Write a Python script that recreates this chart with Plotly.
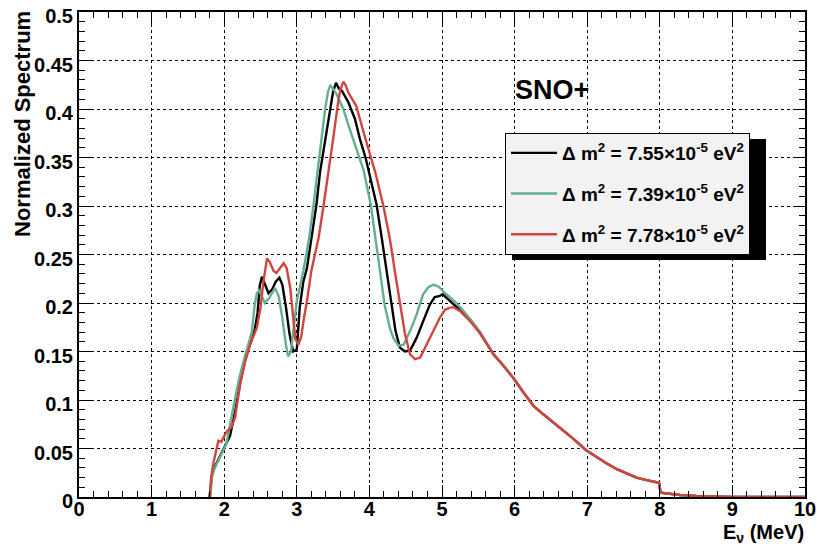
import plotly.graph_objects as go

# ---------------- data ----------------
energy_black = [1.80, 1.83, 1.87, 1.93, 1.99, 2.08, 2.15, 2.22, 2.29, 2.36, 2.42, 2.46, 2.49, 2.52, 2.56,
                2.61, 2.66, 2.71, 2.76, 2.80, 2.85, 2.90, 2.95, 3.00, 3.04, 3.09, 3.14, 3.20, 3.27, 3.32,
                3.39, 3.46, 3.50, 3.54, 3.58, 3.62, 3.71, 3.80, 3.87, 3.95, 4.03, 4.10, 4.17, 4.24, 4.31,
                4.36, 4.42, 4.49, 4.56, 4.65, 4.74, 4.83, 4.90, 4.96, 5.01, 5.07, 5.13, 5.25, 5.39, 5.52]
spectrum_black = [0.000, 0.022, 0.031, 0.040, 0.050, 0.063, 0.088, 0.118, 0.142, 0.158, 0.172, 0.190, 0.218, 0.227, 0.220,
                  0.210, 0.214, 0.222, 0.226, 0.219, 0.196, 0.168, 0.150, 0.152, 0.195, 0.222, 0.236, 0.267, 0.301, 0.335,
                  0.369, 0.403, 0.418, 0.427, 0.421, 0.419, 0.407, 0.390, 0.369, 0.349, 0.325, 0.301, 0.267, 0.233, 0.198,
                  0.171, 0.154, 0.150, 0.151, 0.164, 0.181, 0.198, 0.206, 0.207, 0.209, 0.205, 0.200, 0.193, 0.183, 0.170]

energy_green = [1.81, 1.83, 1.86, 1.95, 2.03, 2.13, 2.20, 2.26, 2.32, 2.38, 2.42, 2.45, 2.48, 2.52, 2.56,
                2.62, 2.66, 2.70, 2.75, 2.80, 2.85, 2.88, 2.92, 2.96, 3.00, 3.09, 3.17, 3.23, 3.29, 3.34,
                3.39, 3.43, 3.46, 3.50, 3.55, 3.64, 3.73, 3.83, 3.92, 4.02, 4.08, 4.15, 4.21, 4.28, 4.33,
                4.40, 4.47, 4.56, 4.65, 4.74, 4.81, 4.88, 4.95, 5.06, 5.20, 5.34, 5.48]
spectrum_green = [0.000, 0.020, 0.028, 0.042, 0.055, 0.094, 0.120, 0.138, 0.155, 0.170, 0.198, 0.210, 0.213, 0.206, 0.200,
                  0.205, 0.211, 0.2155, 0.207, 0.185, 0.157, 0.145, 0.150, 0.175, 0.202, 0.233, 0.267, 0.301, 0.335, 0.369,
                  0.400, 0.418, 0.424, 0.421, 0.415, 0.400, 0.379, 0.356, 0.337, 0.301, 0.267, 0.233, 0.198, 0.1745, 0.164,
                  0.156, 0.157, 0.171, 0.188, 0.209, 0.216, 0.219, 0.217, 0.209, 0.200, 0.188, 0.1745]

energy_red = [1.80, 1.82, 1.85, 1.92, 1.96, 2.03, 2.10, 2.15, 2.22, 2.29, 2.36, 2.45, 2.50, 2.54, 2.59,
              2.63, 2.68, 2.72, 2.77, 2.82, 2.86, 2.91, 2.95, 2.98, 3.02, 3.06, 3.10, 3.14, 3.20, 3.30,
              3.37, 3.43, 3.50, 3.57, 3.60, 3.64, 3.67, 3.71, 3.76, 3.82, 3.92, 4.01, 4.08, 4.19, 4.28,
              4.35, 4.42, 4.49, 4.56, 4.63, 4.70, 4.79, 4.88, 4.97, 5.04, 5.10, 5.16, 5.25, 5.39, 5.52]
spectrum_red = [0.000, 0.020, 0.0345, 0.058, 0.057, 0.067, 0.072, 0.082, 0.1165, 0.140, 0.158, 0.1745, 0.195, 0.222, 0.246,
                0.242, 0.233, 0.231, 0.236, 0.241, 0.236, 0.2155, 0.185, 0.163, 0.157, 0.165, 0.185, 0.202, 0.233, 0.267,
                0.301, 0.335, 0.369, 0.407, 0.420, 0.428, 0.425, 0.417, 0.410, 0.403, 0.376, 0.352, 0.335, 0.301, 0.267,
                0.233, 0.198, 0.168, 0.147, 0.142, 0.1437, 0.157, 0.171, 0.1847, 0.193, 0.195, 0.1957, 0.1916, 0.181, 0.169]

# common high-energy tail (all three curves coincide)
energy_tail = [5.60, 5.71, 5.85, 5.98, 6.12, 6.26, 6.40, 6.53, 6.67, 6.81, 6.99, 7.13, 7.27, 7.40, 7.54,
               7.68, 7.82, 7.99, 8.01, 8.14, 8.28, 8.50, 8.74, 9.00, 10.00]
spectrum_tail = [0.160, 0.147, 0.135, 0.123, 0.108, 0.094, 0.085, 0.077, 0.069, 0.060, 0.048, 0.041, 0.0345, 0.029, 0.0243,
                 0.020, 0.0174, 0.0147, 0.0044, 0.003, 0.002, 0.001, 0.0004, 0.0, 0.0]

series_names = ["<b>\u0394 m<sup>2</sup> = 7.55\u00d710<sup>-5</sup> eV<sup>2</sup></b>",
                "<b>\u0394 m<sup>2</sup> = 7.39\u00d710<sup>-5</sup> eV<sup>2</sup></b>",
                "<b>\u0394 m<sup>2</sup> = 7.78\u00d710<sup>-5</sup> eV<sup>2</sup></b>"]
series_colors = ["#000000", "#64b08e", "#d2443e"]

x_tick_vals = [0, 1, 2, 3, 4, 5, 6, 7, 8, 9, 10]
x_tick_text = ["0", "1", "2", "3", "4", "5", "6", "7", "8", "9", "10"]
y_tick_vals = [0, 0.05, 0.1, 0.15, 0.2, 0.25, 0.3, 0.35, 0.4, 0.45, 0.5]
y_tick_text = ["0", "0.05", "0.1", "0.15", "0.2", "0.25", "0.3", "0.35", "0.4", "0.45", "0.5"]

# ---------------- figure ----------------
W, H = 817, 546
ML, MR, MT, MB = 79, 12, 12, 49
PW, PH = W - ML - MR, H - MT - MB

def px_x(p):
    return (p - ML) / PW

def px_y(p):
    return (H - MB - p) / PH

FONT = "Liberation Sans, Arial, Helvetica, sans-serif"

fig = go.Figure()
all_x = [energy_black, energy_green, energy_red]
all_y = [spectrum_black, spectrum_green, spectrum_red]
for i in range(3):
    fig.add_trace(go.Scatter(
        x=all_x[i] + energy_tail, y=all_y[i] + spectrum_tail,
        mode="lines", name=series_names[i], legendgroup=f"g{i}",
        line=dict(color=series_colors[i], width=2.4),
    ))

axis_common = dict(
    showline=True, linecolor="black", linewidth=2, mirror="allticks",
    ticks="inside", tickcolor="black", tickwidth=1, ticklen=12,
    showgrid=True, gridcolor="black", gridwidth=1, griddash="dot",
    zeroline=False, automargin=False, ticklabeloverflow="allow",
    tickfont=dict(family=FONT, size=20, color="black"),
)

fig.update_xaxes(range=[0, 10], tickvals=x_tick_vals, ticktext=["<b>%s</b>" % t for t in x_tick_text],
                 minor=dict(ticks="inside", ticklen=6, tickcolor="black", dtick=0.2, showgrid=False),
                 ticklabelstandoff=-7, **axis_common)
fig.update_yaxes(range=[0, 0.5], tickvals=y_tick_vals, ticktext=["<b>%s</b>" % t for t in y_tick_text],
                 minor=dict(ticks="inside", ticklen=6, tickcolor="black", dtick=0.01, showgrid=False),
                 ticklabelshift=4, **axis_common)

# legend shadow
fig.add_shape(type="rect", xref="paper", yref="paper",
              x0=px_x(512), x1=px_x(766), y0=px_y(260), y1=px_y(139),
              fillcolor="black", line=dict(width=0), layer="above")

fig.update_layout(
    width=W, height=H,
    margin=dict(l=ML, r=MR, t=MT, b=MB, autoexpand=False),
    paper_bgcolor="white", plot_bgcolor="white",
    font=dict(family=FONT, color="black"),
    showlegend=True,
    legend=dict(
        x=px_x(505), y=px_y(133), xanchor="left", yanchor="top",
        bgcolor="#f2f2f2", bordercolor="black", borderwidth=1,
        font=dict(family=FONT, size=19, color="black"),
        itemwidth=46, tracegroupgap=13, traceorder="grouped",
    ),
    annotations=[
        dict(text="<b>SNO+</b>", xref="paper", yref="paper", x=px_x(513), y=px_y(90),
             xanchor="left", yanchor="middle", showarrow=False,
             font=dict(family=FONT, size=27, color="black")),
        dict(text="<b>Normalized Spectrum</b>", xref="paper", yref="paper", x=px_x(22), y=px_y(9),
             xanchor="center", yanchor="top", textangle=-90, showarrow=False,
             font=dict(family=FONT, size=22, color="black")),
        dict(text="<b>E<sub>\u03bd</sub> (MeV)</b>", xref="paper", yref="paper", x=px_x(806), y=px_y(533),
             xanchor="right", yanchor="middle", showarrow=False,
             font=dict(family=FONT, size=20, color="black")),
    ],
)

fig.write_html("out.html")
